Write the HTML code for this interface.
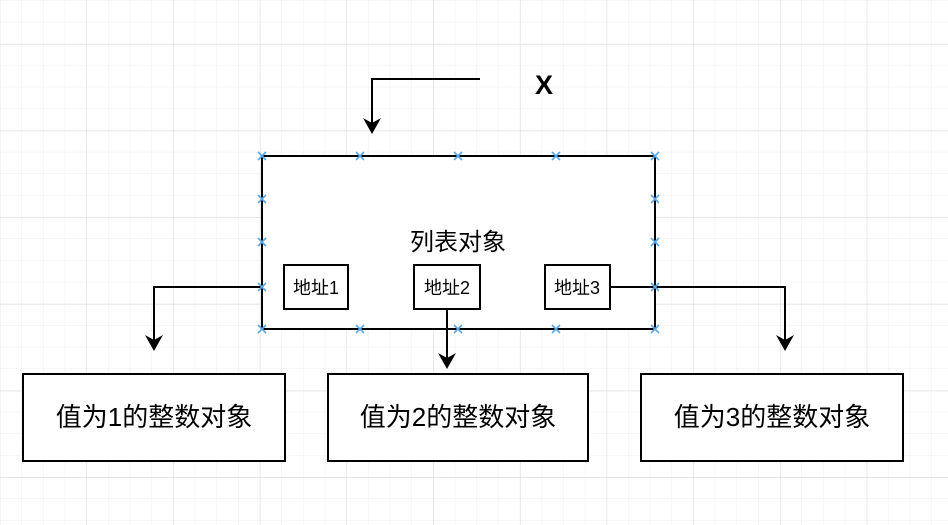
<!DOCTYPE html>
<html><head><meta charset="utf-8"><style>
html,body{margin:0;padding:0;background:#fff;}
svg{display:block;}
text{font-family:"Liberation Sans","Noto Sans CJK SC",sans-serif;fill:#000;}
</style></head><body>
<svg width="948" height="525" viewBox="0 0 948 525" xmlns="http://www.w3.org/2000/svg">
<defs>
<pattern id="minor" width="21.67" height="21.67" patternUnits="userSpaceOnUse" x="0.2" y="0.6">
<path d="M21.67 0V21.67M0 21.67H21.67" stroke="#efefef" stroke-width="1" fill="none"/>
</pattern>
<pattern id="major" width="86.7" height="86.7" patternUnits="userSpaceOnUse" x="-0.2" y="44">
<path d="M0 0V86.7M0 0H86.7" stroke="#dadada" stroke-width="1" fill="none"/>
</pattern>
</defs>
<rect width="948" height="525" fill="url(#minor)"/>
<rect width="948" height="525" fill="url(#major)"/>

<g stroke="#000" stroke-width="2" fill="none">
<rect x="262" y="156" width="393" height="173" fill="#fff"/>
<polyline points="480,79 372,79 372,124"/>
<polyline points="262,287 154,287 154,341"/>
<polyline points="447,309 447,359"/>
<polyline points="610,287 785,287 785,341"/>
<rect x="284" y="265" width="64" height="44" fill="#fff"/>
<rect x="414" y="265" width="66" height="44" fill="#fff"/>
<rect x="545" y="265" width="65" height="44" fill="#fff"/>
<rect x="23" y="374" width="262" height="87" fill="#fff"/>
<rect x="328" y="374" width="260" height="87" fill="#fff"/>
<rect x="641" y="374" width="262" height="87" fill="#fff"/>
</g>
<g fill="#000">
<path d="M363 118 L372 134 L381 118 L372 123 Z"/>
<path d="M145 335 L154 351 L163 335 L154 340 Z"/>
<path d="M438 353 L447 369 L456 353 L447 358 Z"/>
<path d="M776 335 L785 351 L794 335 L785 340 Z"/>
</g>
<g stroke="#5aa9e6" stroke-width="1.6">
<path d="M258 152l8 8m0-8l-8 8 M356 152l8 8m0-8l-8 8 M454 152l8 8m0-8l-8 8 M552 152l8 8m0-8l-8 8 M651 152l8 8m0-8l-8 8
M258 325l8 8m0-8l-8 8 M356 325l8 8m0-8l-8 8 M454 325l8 8m0-8l-8 8 M552 325l8 8m0-8l-8 8 M651 325l8 8m0-8l-8 8
M258 195l8 8m0-8l-8 8 M258 238l8 8m0-8l-8 8 M258 283l8 8m0-8l-8 8
M651 195l8 8m0-8l-8 8 M651 238l8 8m0-8l-8 8 M651 283l8 8m0-8l-8 8"/>
</g>
<text x="544" y="94" font-size="27" font-weight="bold" text-anchor="middle">X</text>
<text x="458" y="250" font-size="24" text-anchor="middle">列表对象</text>
<text x="316" y="294" font-size="18" text-anchor="middle">地址1</text>
<text x="447" y="294" font-size="18" text-anchor="middle">地址2</text>
<text x="577" y="294" font-size="18" text-anchor="middle">地址3</text>
<text x="154" y="426" font-size="26" text-anchor="middle">值为1的整数对象</text>
<text x="458" y="426" font-size="26" text-anchor="middle">值为2的整数对象</text>
<text x="772" y="426" font-size="26" text-anchor="middle">值为3的整数对象</text>
</svg>
</body></html>
